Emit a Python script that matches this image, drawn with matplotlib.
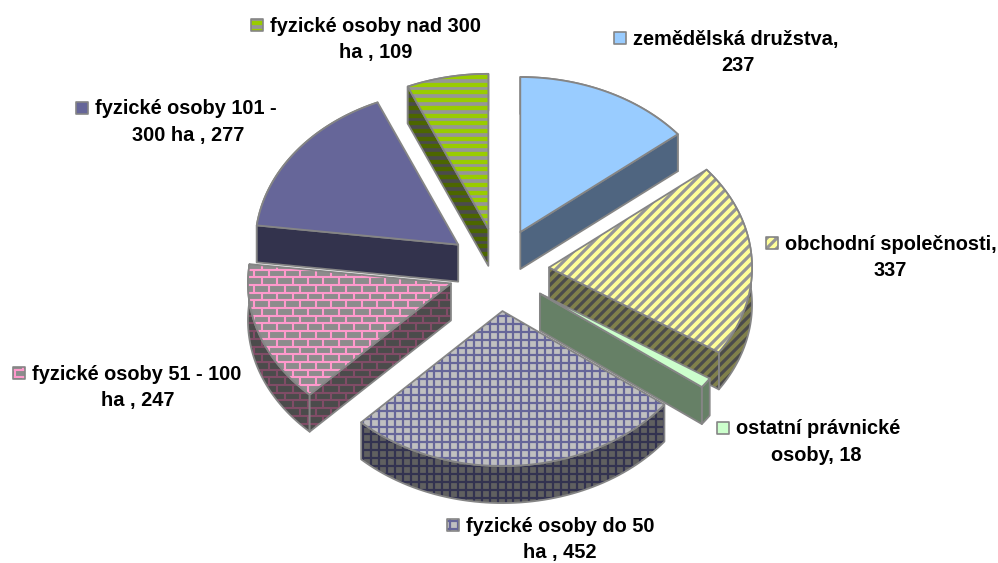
#!/usr/bin/env python3
"""Exploded pseudo-3D pie of farm subject counts, drawn with polygons."""

import numpy as np
import matplotlib
matplotlib.use("Agg")
import matplotlib.pyplot as plt
from matplotlib.collections import LineCollection
from matplotlib.patches import Polygon

plt.rcParams["font.family"] = ["Liberation Sans", "DejaVu Sans"]

# data, clockwise from north
values = [237, 337, 18, 452, 247, 277, 109]
first_lines = ["zemědělská družstva,", "obchodní společnosti,", "ostatní právnické",
               "fyzické osoby do 50", "fyzické osoby 51 - 100",
               "fyzické osoby 101 -", "fyzické osoby nad 300"]
second_lines = ["{}", "{}", "osoby, {}", "ha , {}", "ha , {}", "300 ha , {}", "ha , {}"]

# layout in pixels
CX, CY = 498.6, 269.6
RX, RY = 203, 155
EX, EY = 50.5, 41.6
DEPTH = 37
EDGE = "#858585"
FONT_SIZE = 14.4
swatch_xy = [(614, 32), (766, 237), (717, 422), (447, 519), (13, 367), (76, 102), (251, 19)]
second_cx = [738, 890, 816, 560, 138, 188, 376]

# (pattern, base colour, line colour) for top and side of each slice
top_styles = [("solid", "#99CCFF", None), ("diag", "#969696", "#FFFF99"),
              ("solid", "#CCFFCC", None), ("grid", "#C0C0C0", "#666699"),
              ("brick", "#8C8C8C", "#FF99CC"), ("solid", "#666699", None),
              ("hstripe", "#969696", "#99CC00")]
side_styles = [("solid", "#4F6580", None), ("diag", "#4B4B4B", "#80804C"),
               ("solid", "#668066", None), ("grid", "#606060", "#333350"),
               ("brick", "#4B4B4B", "#804C66"), ("solid", "#33334D", None),
               ("hstripe", "#4B4B4B", "#4C6600")]
draw_order = [6, 5, 4, 0, 1, 2, 3]

z_counter = [1]


def next_z():
    z_counter[0] += 1
    return z_counter[0]


def pattern_segments(kind, x0, y0, x1, y1):
    """Line segments (and width in px) covering a bounding box."""
    segs = []
    if kind == "hstripe":
        for y in np.arange(np.floor(y0 / 7.7) * 7.7, y1 + 8, 7.7):
            segs.append([(x0, y), (x1, y)])
        return segs, 4.3
    if kind == "diag":
        size = (x1 - x0) + (y1 - y0)
        for c in np.arange(np.floor((x0 + y0) / 10) * 10, x1 + y1 + 10, 10):
            segs.append([(c - y0 - size, y0 + size), (c - y0, y0)])
        return segs, 3.9
    if kind == "grid":
        for x in np.arange(np.floor(x0 / 7.9) * 7.9, x1 + 8, 7.9):
            segs.append([(x, y0), (x, y1)])
        for y in np.arange(np.floor(y0 / 7.9) * 7.9, y1 + 8, 7.9):
            segs.append([(x0, y), (x1, y)])
        return segs, 2.2
    if kind == "brick":
        rows = np.arange(np.floor(y0 / 7.7), np.ceil(y1 / 7.7) + 1)
        for r in rows:
            y = r * 7.7
            segs.append([(x0, y), (x1, y)])
            shift = 7.7 if int(r) % 2 else 0
            for x in np.arange(np.floor(x0 / 15.4) * 15.4 + shift, x1 + 16, 15.4):
                segs.append([(x, y), (x, y + 7.7)])
        return segs, 2.1
    return segs, 1


def draw_shape(ax, pts, style, lw=1.3):
    kind, base, line = style
    patch = Polygon(pts, closed=True, facecolor=base, edgecolor="none", zorder=next_z())
    ax.add_patch(patch)
    if kind != "solid":
        pts = np.asarray(pts)
        segs, width = pattern_segments(kind, pts[:, 0].min(), pts[:, 1].min(),
                                       pts[:, 0].max(), pts[:, 1].max())
        lines = LineCollection(segs, colors=line, linewidths=width * 0.72,
                               zorder=next_z(), capstyle="butt")
        ax.add_collection(lines)
        lines.set_clip_path(patch)
    ax.add_patch(Polygon(pts, closed=True, fill=False, edgecolor=EDGE, linewidth=lw,
                         joinstyle="round", zorder=next_z()))


def draw_slice(ax, start, end, top, side):
    mid = (start + end) / 2
    ax0 = CX + EX * np.sin(mid)
    ay0 = CY - EY * np.cos(mid)
    t = np.linspace(start, end, 60)
    arc = np.column_stack([ax0 + RX * np.sin(t), ay0 - RY * np.cos(t)])
    apex = np.array([ax0, ay0])
    down = np.array([0, DEPTH])

    draw_shape(ax, np.vstack([arc, (arc + down)[::-1]]), side)
    # only the radial walls that face the viewer
    if np.sin(start) < -1e-6:
        draw_shape(ax, [apex, arc[0], arc[0] + down, apex + down], side)
    if np.sin(end) > 1e-6:
        draw_shape(ax, [apex, arc[-1], arc[-1] + down, apex + down], side)
    draw_shape(ax, np.vstack([apex, arc]), top)


def main():
    fig = plt.figure(figsize=(9.98, 5.63), dpi=100)
    ax = fig.add_axes([0, 0, 1, 1])
    ax.set_xlim(0, 998)
    ax.set_ylim(563, 0)
    ax.axis("off")

    angles = np.radians(np.cumsum([0] + values) / sum(values) * 360)
    for i in draw_order:
        draw_slice(ax, angles[i], angles[i + 1], top_styles[i], side_styles[i])

    for i, line in enumerate(first_lines):
        sx, sy = swatch_xy[i]
        draw_shape(ax, [(sx, sy), (sx + 12, sy), (sx + 12, sy + 12), (sx, sy + 12)],
                   top_styles[i], lw=1.2)
        ax.text(sx + 19.5, sy + 12.5, line, fontsize=FONT_SIZE, fontweight="bold",
                ha="left", va="baseline", color="black", zorder=next_z())
        ax.text(second_cx[i], sy + 39, second_lines[i].format(values[i]), fontsize=FONT_SIZE,
                fontweight="bold", ha="center", va="baseline", color="black", zorder=next_z())

    fig.savefig("out.png", dpi=100, facecolor="white")
    plt.close(fig)


if __name__ == "__main__":
    main()
